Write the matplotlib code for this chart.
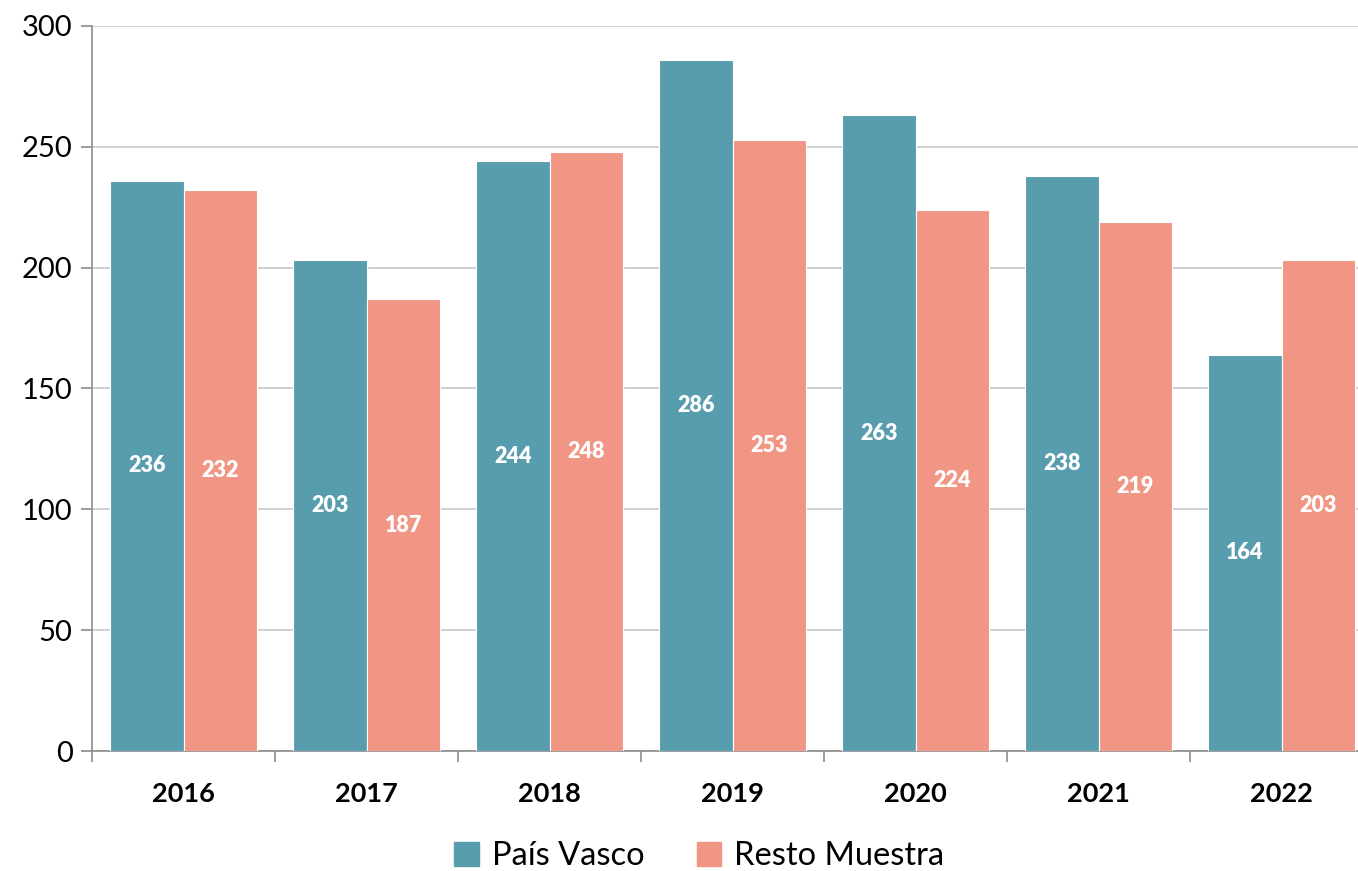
import numpy as np
from matplotlib import pyplot as plt
from matplotlib.patches import Patch

plt.rcParams['font.family'] = ['Lato', 'DejaVu Sans']

# datos
anios = ['2016', '2017', '2018', '2019', '2020', '2021', '2022']
pais_vasco = [236, 203, 244, 286, 263, 238, 164]
resto_muestra = [232, 187, 248, 253, 224, 219, 203]

color_pv = '#589DAE'
color_rm = '#F19684'

fig = plt.figure(figsize=(13.58, 8.71), dpi=100)
ax = fig.add_axes([92 / 1358, 1 - 751 / 871, 1281 / 1358, 725 / 871])

x = np.arange(len(anios))
w = 0.4
b1 = ax.bar(x - w / 2, pais_vasco, w, color=color_pv, edgecolor='white', linewidth=0.8, zorder=3)
b2 = ax.bar(x + w / 2, resto_muestra, w, color=color_rm, edgecolor='white', linewidth=0.8, zorder=3)

# etiquetas en el centro de cada barra
for rects in (b1, b2):
    for r in rects:
        h = r.get_height()
        ax.text(r.get_x() + r.get_width() / 2, h / 2, str(int(h)), ha='center', va='center',
                color='white', fontsize=15.5, fontweight='heavy', zorder=4)

ax.set_xlim(-0.5, len(anios) - 0.5)
ax.set_ylim(0, 300)
ax.set_yticks(range(0, 301, 50))
ax.yaxis.grid(True, color='#C8C8C8', linewidth=1.2, zorder=0)
ax.set_axisbelow(True)

for s in ['top', 'right']:
    ax.spines[s].set_visible(False)
ax.spines['left'].set_color('#8C8C8C')
ax.spines['bottom'].set_color('#8C8C8C')
ax.spines['left'].set_linewidth(1.2)
ax.spines['bottom'].set_linewidth(1.2)

ax.set_xticks(x)
ax.set_xticklabels(anios, fontsize=19.5, fontweight='bold')
ax.tick_params(axis='x', length=0, pad=22)
ax.set_xticks(np.arange(-0.5, len(anios), 1), minor=True)
ax.tick_params(axis='x', which='minor', length=8, color='#8C8C8C', width=1.2)
ax.tick_params(axis='y', labelsize=21, length=8, color='#8C8C8C', width=1.2, pad=6)

handles = [Patch(color=color_pv, label='País Vasco'), Patch(color=color_rm, label='Resto Muestra')]
fig.legend(handles=handles, loc='center', bbox_to_anchor=(0.515, 1 - 856 / 871), ncol=2,
           frameon=False, fontsize=23.5, handlelength=0.75, handleheight=0.75,
           handletextpad=0.4, columnspacing=1.6)

fig.savefig('out.png', dpi=100)
